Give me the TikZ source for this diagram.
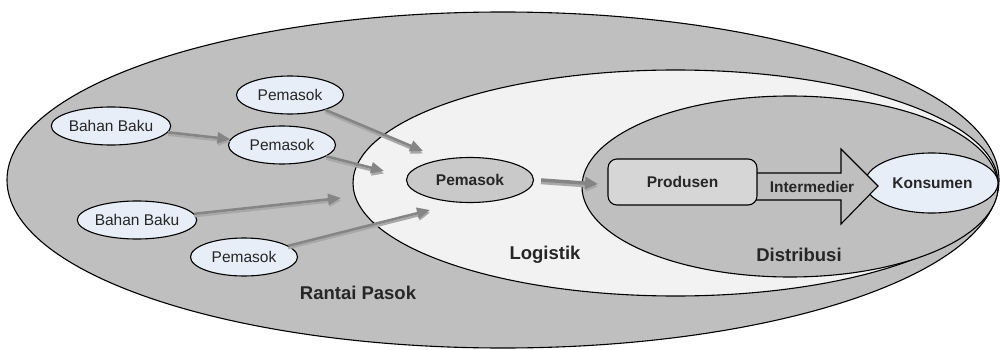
\documentclass[tikz,border=0pt]{standalone}
\usepackage{fontspec}
\setmainfont{Liberation Sans}
\usetikzlibrary{arrows.meta,shapes.geometric}
\definecolor{outergray}{HTML}{BFBFBF}
\definecolor{logfill}{HTML}{F2F2F2}
\definecolor{prodfill}{HTML}{D6D6D6}
\definecolor{pcfill}{HTML}{C9C9C9}
\definecolor{lblue}{HTML}{E7EEF8}
\definecolor{arrgray}{HTML}{858585}
\definecolor{arrshadow}{HTML}{A8A8A8}
\definecolor{txtgray}{HTML}{262626}
\tikzset{
  zone/.style={ellipse, draw=black, line width=1.1pt, inner sep=0pt},
  small/.style={ellipse, draw=black, line width=1.1pt, fill=lblue, inner sep=0pt, text=txtgray,
    minimum width=107pt, minimum height=38pt, font=\fontsize{15.5}{16}\selectfont},
  bold/.style={font=\fontsize{15.5}{16}\selectfont\bfseries, text=txtgray},
  zlabel/.style={font=\fontsize{18.5}{19}\selectfont\bfseries, text=txtgray},
  flow/.style={draw=arrgray, line width=2.6pt, -{Triangle[length=13pt,width=11pt]}},
  flowshadow/.style={draw=arrshadow, line width=2.2pt, -{Triangle[length=12pt,width=10pt]}},
}
\begin{document}
\begin{tikzpicture}[x=1pt,y=-1pt]
\useasboundingbox (0,0) rectangle (1000,350);
% zones
\node[zone, fill=outergray, minimum width=992pt, minimum height=336pt] (rp) at (503,180) {};
\node[zone, fill=logfill, minimum width=645pt, minimum height=226pt] (lg) at (675.5,183) {};
\node[zone, fill=outergray, minimum width=416pt, minimum height=181pt] (ds) at (790,186.5) {};
% small nodes
\node[small] (p1) at (290,95) {Pemasok};
\node[small] (b1) at (111,126) {Bahan Baku};
\node[small] (p2) at (282,145) {Pemasok};
\node[small] (b2) at (137,220) {Bahan Baku};
\node[small] (p3) at (244,257) {Pemasok};
% central pemasok
\node[ellipse, draw=black, line width=1.1pt, fill=pcfill, inner sep=0pt,
  minimum width=127pt, minimum height=45pt, bold] (pc) at (470,180) {Pemasok};
% free arrow ends
\coordinate (e1) at (423,151);
\coordinate (e2) at (384,171);
\coordinate (e3) at (341,198);
\coordinate (e4) at (430,210);
\coordinate (e5) at (598,184);
% arrows with shadow
\foreach \s/\t in {p1/e1,p2/e2,b2/e3,p3/e4}{
  \draw[flowshadow, transform canvas={yshift=-2.5pt}] (\s) -- (\t);
  \draw[flow] (\s) -- (\t);
}
\draw[flowshadow, transform canvas={yshift=-2.5pt}] (b1) -- (p2);
\draw[flow] (b1) -- (p2);
\draw[draw=arrshadow, line width=3.5pt, transform canvas={yshift=-2.5pt}, -{Triangle[length=12pt,width=11pt]}] ([xshift=7pt]pc.east) -- (e5);
\draw[draw=arrgray, line width=3.5pt, -{Triangle[length=13pt,width=12pt]}] ([xshift=7pt]pc.east) -- (e5);
% konsumen
\node[ellipse, draw=black, line width=1.1pt, fill=lblue, inner sep=0pt,
  minimum width=133pt, minimum height=60pt, bold] (ks) at (931.5,183) {\hspace*{2pt}Konsumen};
% big arrow
\coordinate (a0) at (750,173);
\draw[draw=black, line width=1.1pt, fill=outergray, line join=miter]
  (a0) -- (841,173) -- (841,149) -- (878,186) -- (841,224) -- (841,200) -- (750,200) -- cycle;
% produsen
\node[draw=black, line width=1.1pt, fill=prodfill, rounded corners=9pt,
  minimum width=149pt, minimum height=46pt, inner sep=0pt, bold] (pr) at (682.5,182) {Produsen};
\node[bold] (im) at (812,187) {Intermedier};
% labels
\node[zlabel] (lrp) at (358,293) {Rantai Pasok};
\node[zlabel] (llg) at (545,255) {Logistik};
\node[zlabel] (lds) at (799,255) {Distribusi};
\end{tikzpicture}
\end{document}
